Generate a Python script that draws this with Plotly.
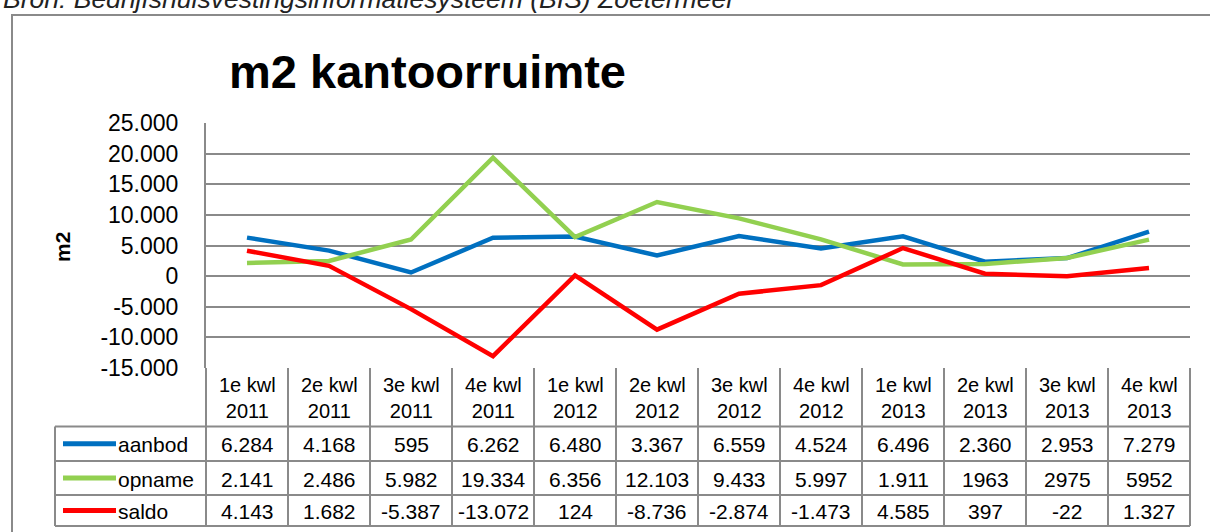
import plotly.graph_objects as go

# ---------------- data ----------------
categories = ["1e kwl<br>2011", "2e kwl<br>2011", "3e kwl<br>2011", "4e kwl<br>2011",
              "1e kwl<br>2012", "2e kwl<br>2012", "3e kwl<br>2012", "4e kwl<br>2012",
              "1e kwl<br>2013", "2e kwl<br>2013", "3e kwl<br>2013", "4e kwl<br>2013"]
series_names = ["aanbod", "opname", "saldo"]
aanbod = [6284, 4168, 595, 6262, 6480, 3367, 6559, 4524, 6496, 2360, 2953, 7279]
opname = [2141, 2486, 5982, 19334, 6356, 12103, 9433, 5997, 1911, 1963, 2975, 5952]
saldo = [4143, 1682, -5387, -13072, 124, -8736, -2874, -1473, 4585, 397, -22, 1327]
aanbod_labels = ["6.284", "4.168", "595", "6.262", "6.480", "3.367", "6.559", "4.524", "6.496", "2.360", "2.953", "7.279"]
opname_labels = ["2.141", "2.486", "5.982", "19.334", "6.356", "12.103", "9.433", "5.997", "1.911", "1963", "2975", "5952"]
saldo_labels = ["4.143", "1.682", "-5.387", "-13.072", "124", "-8.736", "-2.874", "-1.473", "4.585", "397", "-22", "1.327"]
y_ticks = [25000, 20000, 15000, 10000, 5000, 0, -5000, -10000, -15000]
y_ticktext = ["25.000", "20.000", "15.000", "10.000", "5.000", "0", "-5.000", "-10.000", "-15.000"]
colors = ["#0070C0", "#92D050", "#FF0000"]

# ---------------- layout geometry (pixels) ----------------
W, H = 1210, 532
L, R, T, B = 206, 1190, 123, 368
FONT = "Liberation Sans, Arial, sans-serif"
GRID = "#8A8A8A"
n = len(categories)


def px_x(px):
    return (px - L) / (R - L)


def px_y(py):
    return (B - py) / (B - T)


def col_x(i):
    # paper x of a column centre / boundary (data range -0.5 .. n-0.5)
    return (i + 0.5) / n


fig = go.Figure()
values = [aanbod, opname, saldo]
xs = list(range(n))
for name, vals, c in zip(series_names, values, colors):
    fig.add_trace(go.Scatter(x=xs, y=vals, mode="lines", name=name,
                             line=dict(color=c, width=4.5), cliponaxis=False,
                             showlegend=False))

shapes = []
annotations = []

# outer chart border
shapes.append(dict(type="rect", xref="paper", yref="paper",
                   x0=px_x(12), x1=px_x(1225), y0=px_y(545), y1=px_y(15),
                   line=dict(color=GRID, width=2)))

# table geometry
header_top, header_bot = B, 426.5
row_edges = [426.5, 461, 495, 526]
legend_left = 55

for py in row_edges:
    shapes.append(dict(type="line", xref="paper", yref="paper",
                       x0=px_x(legend_left), x1=1, y0=px_y(py), y1=px_y(py),
                       line=dict(color=GRID, width=2)))
for i in range(n + 1):
    xb = col_x(i - 0.5)
    shapes.append(dict(type="line", xref="paper", yref="paper",
                       x0=xb, x1=xb, y0=px_y(header_top), y1=px_y(row_edges[-1]),
                       line=dict(color=GRID, width=2)))
shapes.append(dict(type="line", xref="paper", yref="paper",
                   x0=px_x(legend_left), x1=px_x(legend_left),
                   y0=px_y(row_edges[0]), y1=px_y(row_edges[-1]),
                   line=dict(color=GRID, width=2)))

for i, cat in enumerate(categories):
    annotations.append(dict(text=cat, xref="paper", yref="paper", x=col_x(i),
                            y=px_y((header_top + header_bot) / 2 + 1), showarrow=False,
                            xanchor="center", yanchor="middle",
                            font=dict(family=FONT, size=20, color="black")))

label_rows = [aanbod_labels, opname_labels, saldo_labels]
for r, (name, labels, c) in enumerate(zip(series_names, label_rows, colors)):
    cy = (row_edges[r] + row_edges[r + 1]) / 2
    shapes.append(dict(type="line", xref="paper", yref="paper",
                       x0=px_x(63), x1=px_x(116), y0=px_y(cy), y1=px_y(cy),
                       line=dict(color=c, width=5)))
    annotations.append(dict(text=name, xref="paper", yref="paper", x=px_x(116),
                            y=px_y(cy + 1), showarrow=False, xanchor="left",
                            yanchor="middle",
                            font=dict(family=FONT, size=21, color="black")))
    for i, lab in enumerate(labels):
        annotations.append(dict(text=lab, xref="paper", yref="paper", x=col_x(i),
                                y=px_y(cy + 1), showarrow=False, xanchor="center",
                                yanchor="middle",
                                font=dict(family=FONT, size=21, color="black")))

annotations.append(dict(text="<b>m2 kantoorruimte</b>", xref="paper", yref="paper",
                        x=px_x(427), y=px_y(72), showarrow=False,
                        xanchor="center", yanchor="middle",
                        font=dict(family=FONT, size=47, color="black")))
annotations.append(dict(text="<b>m2</b>", xref="paper", yref="paper",
                        x=px_x(62), y=px_y(247), showarrow=False, textangle=-90,
                        xanchor="center", yanchor="middle",
                        font=dict(family=FONT, size=21, color="black")))
annotations.append(dict(text="<i>Bron: Bedrijfshuisvestingsinformatiesysteem (BIS) Zoetermeer</i>",
                        xref="paper", yref="paper", x=px_x(1), y=px_y(-1),
                        showarrow=False, xanchor="left", yanchor="middle",
                        font=dict(family=FONT, size=26.5, color="#222222")))

fig.update_layout(
    width=W, height=H,
    margin=dict(l=L, r=W - R, t=T, b=H - B, pad=0),
    paper_bgcolor="white", plot_bgcolor="white",
    shapes=shapes, annotations=annotations,
    showlegend=False,
    xaxis=dict(range=[-0.5, n - 0.5], showticklabels=False, showgrid=False,
               zeroline=False, showline=False, fixedrange=True),
    yaxis=dict(range=[-15000, 25000], tickvals=y_ticks, ticktext=y_ticktext,
               showgrid=True, gridcolor=GRID, gridwidth=1.5, zeroline=False,
               showline=True, linecolor=GRID, linewidth=2,
               ticks="outside", ticklen=21, tickcolor="rgba(0,0,0,0)",
               tickfont=dict(family=FONT, size=23, color="black"), fixedrange=True),
)

fig.write_html("out.html", config={"displayModeBar": False},
               post_script="document.body.style.margin='0';document.body.style.overflow='hidden';")
